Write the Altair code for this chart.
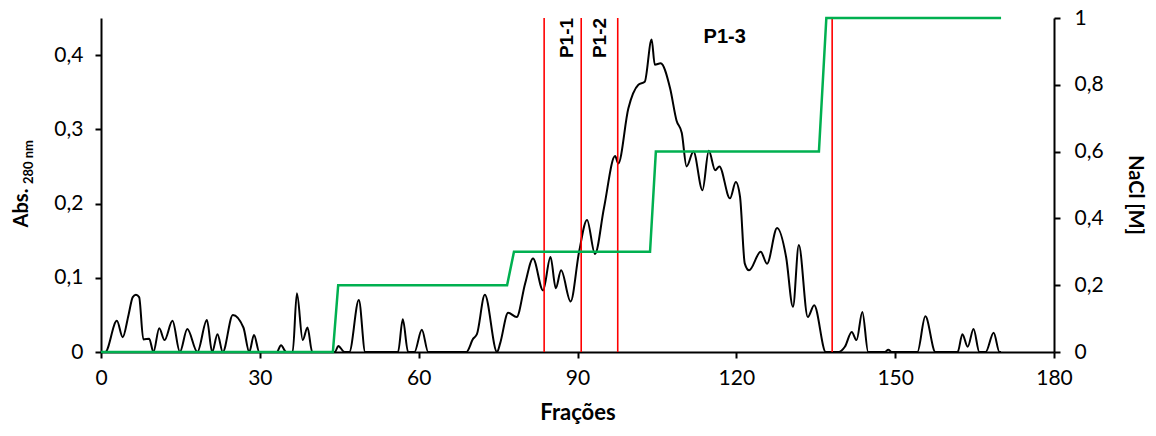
import altair as alt
import pandas as pd

# Absorbance (280 nm) trace: fraction number and absorbance
abs_frac = [0, 0.8, 3.0, 4.1, 5.2, 6.0, 6.6, 7.2, 8.0, 9.1, 9.9, 11.0, 12.0, 13.5, 14.9,
            16.3, 18.2, 20.0, 21.0, 22.0, 23.0, 24.9, 26.9, 28.0, 28.9, 29.9, 33.2, 34.0,
            35.0, 36.2, 37.0, 38.1, 39.0, 39.9, 44.2, 44.8, 46.0, 46.9, 48.7, 49.9, 56.1,
            57.0, 58.0, 59.2, 60.6, 61.8, 69.0, 70.3, 71.0, 72.5, 74.8, 75.4, 76.9, 78.5,
            80.1, 81.6, 83.5, 84.9, 85.9, 86.9, 88.7, 90.3, 91.8, 93.3, 95.0, 97.1, 97.7,
            99.6, 101.5, 102.7, 104.0, 104.6, 105.7, 107.5, 108.7, 109.7, 110.6, 111.9,
            113.6, 114.8, 116.0, 116.8, 118.8, 119.9, 120.7, 121.6, 122.4, 124.6, 125.8,
            127.7, 129.4, 130.7, 131.8, 133.5, 134.7, 136.9, 139.3, 140.5, 141.8, 142.7,
            143.8, 144.9, 148.0, 148.7, 149.4, 154.2, 155.7, 157.6, 161.8, 162.7, 163.7,
            164.8, 165.9, 167.1, 168.6, 169.7, 170.0]
abs_val = [0, 0, 0.042, 0.020, 0.050, 0.074, 0.077, 0.074, 0.017, 0.018, 0, 0.032, 0.016,
           0.042, 0, 0.031, 0, 0.043, 0, 0.024, 0, 0.050, 0.033, 0, 0.023, 0, 0, 0.009,
           0, 0, 0.079, 0.016, 0.033, 0, 0, 0.008, 0, 0, 0.070, 0, 0, 0.044, 0, 0, 0.030,
           0, 0, 0.018, 0.024, 0.077, 0, 0.012, 0.053, 0.047, 0.092, 0.126, 0.083, 0.128,
           0.086, 0.110, 0.068, 0.135, 0.178, 0.132, 0.194, 0.264, 0.254, 0.328, 0.360,
           0.364, 0.421, 0.387, 0.389, 0.355, 0.312, 0.295, 0.250, 0.270, 0.218, 0.271,
           0.245, 0.250, 0.207, 0.229, 0.209, 0.119, 0.110, 0.135, 0.119, 0.167, 0.128,
           0.061, 0.144, 0.047, 0.063, 0, 0, 0.007, 0.027, 0.016, 0.054, 0, 0, 0.003, 0,
           0, 0.048, 0, 0, 0.024, 0.007, 0.031, 0, 0, 0.026, 0, 0]

# NaCl step gradient
nacl_frac = [0, 43.8, 44.8, 76.7, 78.0, 103.7, 104.8, 135.6, 137.0, 170.0]
nacl_val = [0, 0, 0.2, 0.2, 0.3, 0.3, 0.6, 0.6, 1.0, 1.0]

# Pool cut positions (red lines)
cut_frac = [83.7, 90.7, 97.6, 138.1]

# Pool labels
vlabel_text = ["P1-1", "P1-2"]
vlabel_frac = [88.0, 94.2]
hlabel_text = ["P1-3"]
hlabel_frac = [117.8]

FONT = "Lato"
BOLD = "Liberation Sans"

df_abs = pd.DataFrame({"frac": abs_frac, "abs": abs_val})
df_nacl = pd.DataFrame({"frac": nacl_frac, "nacl": nacl_val})
df_cut = pd.DataFrame({"frac": cut_frac})
df_vlab = pd.DataFrame({"frac": vlabel_frac, "txt": vlabel_text})
df_hlab = pd.DataFrame({"frac": hlabel_frac, "txt": hlabel_text})

x_scale = alt.Scale(domain=[0, 180], nice=False, zero=False)
x_axis = alt.Axis(values=list(range(0, 181, 30)), title="Frações", titleFont=FONT,
                  titleFontSize=22, titleFontWeight="bold", titleColor="black",
                  titlePadding=14, labelPadding=9, labelFlush=False)
lab_expr = "replace(format(datum.value, '.1~f'), '.', ',')"

absline = alt.Chart(df_abs).mark_line(color="black", strokeWidth=2,
                                      interpolate="monotone").encode(
    x=alt.X("frac:Q", scale=x_scale, axis=x_axis),
    y=alt.Y("abs:Q", scale=alt.Scale(domain=[0, 0.45], nice=False),
            axis=alt.Axis(values=[0, 0.1, 0.2, 0.3, 0.4], labelExpr=lab_expr,
                          title=None, orient="left", labelPadding=12)),
)

cuts = alt.Chart(df_cut).mark_rule(color="#FF0000", strokeWidth=1.6).encode(
    x=alt.X("frac:Q", scale=x_scale)
)

vlabels = alt.Chart(df_vlab).mark_text(font=BOLD, fontWeight="bold", fontSize=19,
                                       angle=270, align="center", baseline="middle",
                                       color="black").encode(
    x=alt.X("frac:Q", scale=x_scale), y=alt.value(20), text="txt:N")

hlabels = alt.Chart(df_hlab).mark_text(font=BOLD, fontWeight="bold", fontSize=20,
                                       align="center", baseline="middle",
                                       color="black").encode(
    x=alt.X("frac:Q", scale=x_scale), y=alt.value(19), text="txt:N")

title_df = pd.DataFrame({"t": [""]})
abs_title = alt.Chart(title_df).mark_text(font=FONT, fontWeight="bold", fontSize=20,
                                          angle=270, align="center", baseline="middle",
                                          color="black", text="Abs.").encode(
    x=alt.value(-79), y=alt.value(190))
sub_title = alt.Chart(title_df).mark_text(font=FONT, fontWeight="bold", fontSize=13,
                                          angle=270, align="center", baseline="middle",
                                          color="black", text="280 nm").encode(
    x=alt.value(-72), y=alt.value(144))
nacl_title = alt.Chart(title_df).mark_text(font=FONT, fontWeight="bold", fontSize=20,
                                           angle=90, align="center", baseline="middle",
                                           color="black", text="NaCl [M]").encode(
    x=alt.value(1034), y=alt.value(177))

left = alt.layer(absline, cuts, vlabels, hlabels, abs_title, sub_title, nacl_title)

green = alt.Chart(df_nacl).mark_line(color="#00B050", strokeWidth=2.5).encode(
    x=alt.X("frac:Q", scale=x_scale),
    y=alt.Y("nacl:Q", scale=alt.Scale(domain=[0, 1], nice=False),
            axis=alt.Axis(values=[0, 0.2, 0.4, 0.6, 0.8, 1.0], labelExpr=lab_expr,
                          title=None, orient="right", labelPadding=14)),
)

chart = alt.layer(left, green).resolve_scale(y="independent").properties(
    width=953, height=334,
    autosize=alt.AutoSizeParams(type="none"),
    padding={"left": 93, "top": 10, "right": 94, "bottom": 76},
).configure_view(stroke=None).configure_axis(
    grid=False, domainColor="black", domainWidth=2, tickColor="black", tickWidth=2,
    tickSize=6, labelFont=FONT, labelFontSize=21, labelColor="black",
)

chart.save("out.html", embed_options={"renderer": "svg", "actions": False})
